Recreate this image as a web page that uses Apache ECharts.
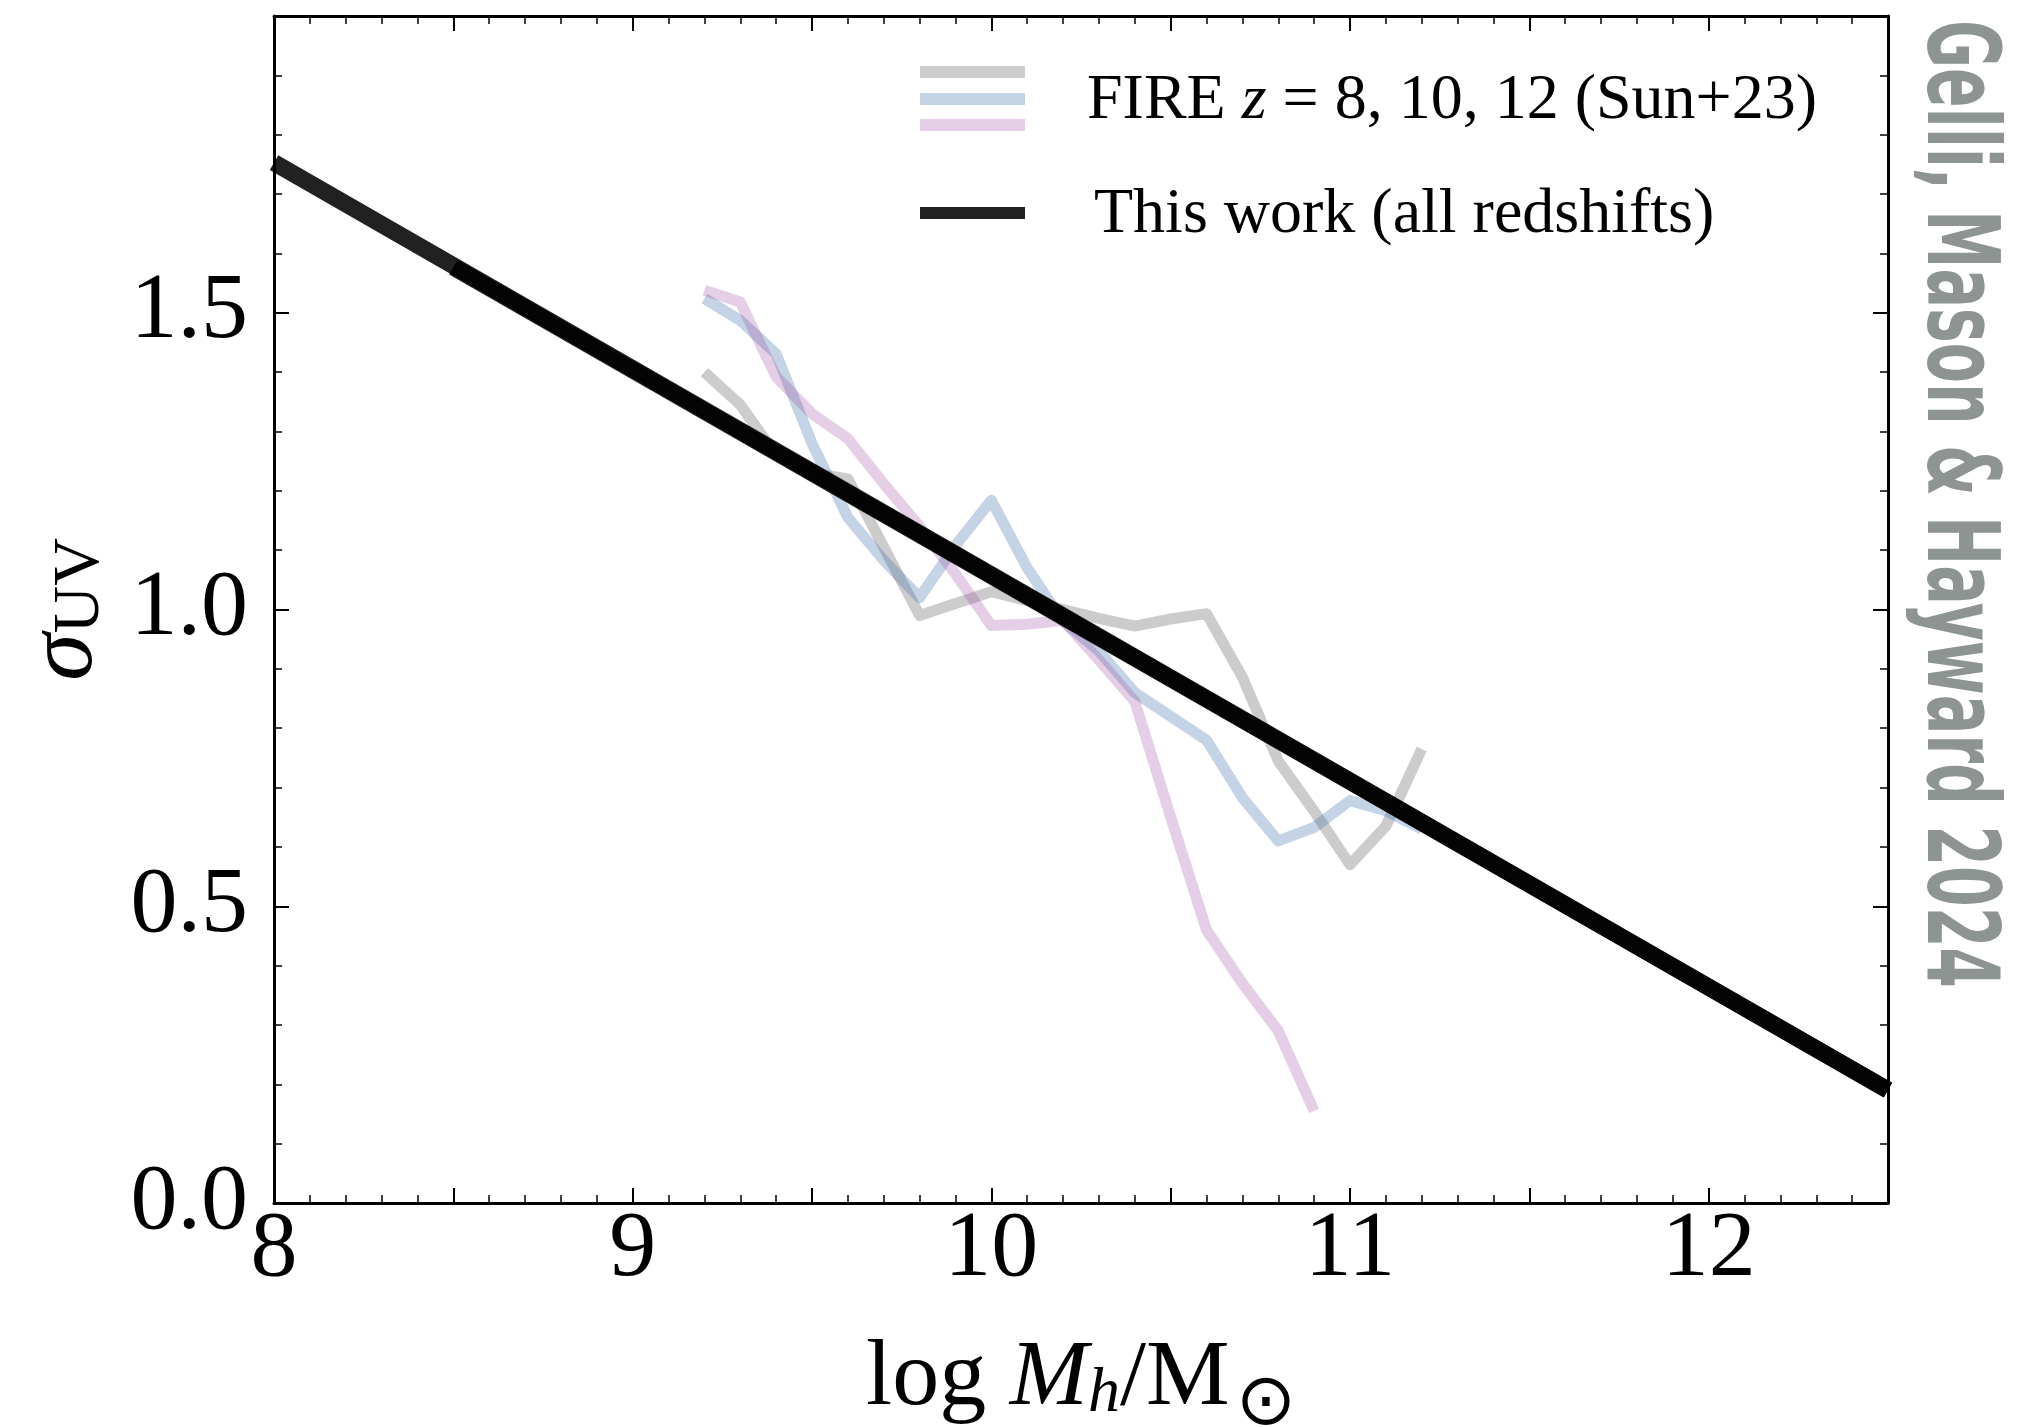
<!DOCTYPE html>
<html><head><meta charset="utf-8">
<script src="https://cdn.jsdelivr.net/npm/echarts@6/dist/echarts.min.js"></script>
<style>html,body{margin:0;padding:0;background:#fff}#c{width:2039px;height:1427px}</style>
</head><body><div id="c"></div>
<script>
// FIRE (Sun+23) halo-mass bins, log Mh
const fireMass = [9.2,9.3,9.4,9.5,9.6,9.7,9.8,9.9,10.0,10.1,10.2,10.3,10.4,10.5,10.6,10.7,10.8,10.9,11.0,11.1,11.2];
const fireZ8  = [1.40,1.345,1.26,1.23,1.22,1.105,0.99,1.01,1.03,1.015,1.0,0.985,0.972,0.984,0.993,0.886,0.745,0.66,0.57,0.635,0.765];
const fireZ10 = [1.524,1.487,1.431,1.28,1.155,1.083,1.02,1.108,1.184,1.07,0.98,0.93,0.86,0.82,0.78,0.683,0.61,0.633,0.678,0.661,0.63];
const fireZ12 = [1.538,1.518,1.392,1.33,1.288,1.212,1.14,1.06,0.973,0.975,0.982,0.915,0.845,0.65,0.46,0.37,0.29,0.155];
// This work (all redshifts)
const fitMass  = [8.0, 12.5];
const fitSigma = [1.753, 0.190];
const fitMass2  = [8.5, 12.5];
const fitSigma2 = [1.577, 0.190];
// axis ticks
const xTicks = [8, 9, 10, 11, 12];
const yTicks = [0.0, 0.5, 1.0, 1.5];

const zip = (a, b) => a.slice(0, b.length).map((v, i) => [v, b[i]]);
const serif = "'Liberation Serif','DejaVu Serif',serif";
const axisLine = {show: true, onZero: false, lineStyle: {color: '#000', width: 3}};
const axisTick = {show: true, inside: true, length: 15, lineStyle: {color: '#000', width: 2}};
const minorTick = {show: true, splitNumber: 5, length: 8, lineStyle: {color: '#000', width: 1.5}};

const chart = echarts.init(document.getElementById('c'), null, {renderer: 'canvas'});
const fireStyle = (c) => ({color: c, width: 11, join: 'round', cap: 'butt'});

chart.setOption({
  animation: false,
  backgroundColor: '#fff',
  grid: {left: 274, right: 151, top: 16, bottom: 224, containLabel: false, outerBoundsMode: 'none'},
  xAxis: [
    {type: 'value', min: 8, max: 12.5, interval: 0.5, position: 'bottom',
     axisLine, axisTick, minorTick, splitLine: {show: false}, minorSplitLine: {show: false},
     axisLabel: {show: true, margin: 0, color: '#000', fontFamily: serif, fontSize: 94,
       formatter: v => xTicks.includes(v) ? String(v) : ''},
     name: '{a|log }{b|M}{s|h}{a|/M}{o|⊙}', nameLocation: 'middle', nameGap: 114,
     nameTextStyle: {rich: {
       a: {fontFamily: serif, fontSize: 94, color: '#000'},
       b: {fontFamily: serif, fontSize: 94, fontStyle: 'italic', color: '#000'},
       s: {fontFamily: serif, fontSize: 64, fontStyle: 'italic', color: '#000', padding: [30, 0, 0, 0]},
       o: {fontFamily: "'DejaVu Sans',sans-serif", fontSize: 72, color: '#000', padding: [52, 0, 0, 6]}
     }}},
    {type: 'value', min: 8, max: 12.5, interval: 0.5, position: 'top',
     axisLine, axisTick, minorTick, splitLine: {show: false}, axisLabel: {show: false}}
  ],
  yAxis: [
    {type: 'value', min: 0, max: 2.0, interval: 0.5, position: 'left',
     axisLine, axisTick, minorTick, splitLine: {show: false},
     axisLabel: {show: true, margin: 26, color: '#000', fontFamily: serif, fontSize: 94,
       formatter: v => yTicks.some(t => Math.abs(t - v) < 1e-9) ? v.toFixed(1) : ''},
     name: '{g|σ}{u|UV}', nameLocation: 'middle', nameRotate: 90, nameGap: 160,
     nameTextStyle: {rich: {
       g: {fontFamily: serif, fontSize: 96, fontStyle: 'italic', color: '#000'},
       u: {fontFamily: serif, fontSize: 66, color: '#000', padding: [30, 0, 0, 0]}
     }}},
    {type: 'value', min: 0, max: 2.0, interval: 0.5, position: 'right',
     axisLine, axisTick, minorTick, splitLine: {show: false}, axisLabel: {show: false}}
  ],
  series: [
    {name: 'FIRE z=8', type: 'line', showSymbol: false, data: zip(fireMass, fireZ8),
     lineStyle: fireStyle('rgba(128,128,128,0.4)'), z: 2},
    {name: 'FIRE z=10', type: 'line', showSymbol: false, data: zip(fireMass, fireZ10),
     lineStyle: fireStyle('rgba(60,110,170,0.3)'), z: 2},
    {name: 'FIRE z=12', type: 'line', showSymbol: false, data: zip(fireMass, fireZ12),
     lineStyle: fireStyle('rgba(150,70,160,0.26)'), z: 2},
    {name: 'This work', type: 'line', showSymbol: false, data: zip(fitMass, fitSigma),
     lineStyle: {color: 'rgba(0,0,0,0.87)', width: 17, cap: 'butt'}, z: 3},
    {name: 'This work 2', type: 'line', showSymbol: false, data: zip(fitMass2, fitSigma2),
     lineStyle: {color: 'rgba(0,0,0,0.87)', width: 17, cap: 'butt'}, z: 3}
  ],
  graphic: [
    {type: 'line', shape: {x1: 920, y1: 72, x2: 1025, y2: 72}, style: {stroke: 'rgba(128,128,128,0.4)', lineWidth: 12}},
    {type: 'line', shape: {x1: 920, y1: 99, x2: 1025, y2: 99}, style: {stroke: 'rgba(60,110,170,0.3)', lineWidth: 12}},
    {type: 'line', shape: {x1: 920, y1: 125, x2: 1025, y2: 125}, style: {stroke: 'rgba(150,70,160,0.26)', lineWidth: 12}},
    {type: 'line', shape: {x1: 920, y1: 213, x2: 1025, y2: 213}, style: {stroke: 'rgba(0,0,0,0.87)', lineWidth: 12}},
    {type: 'text', x: 1087, y: 101, style: {
      text: '{a|FIRE }{i|z}{a| = 8, 10, 12 (Sun+23)}',
      rich: {a: {fontFamily: serif, fontSize: 64, fill: '#000'},
             i: {fontFamily: serif, fontSize: 64, fontStyle: 'italic', fill: '#000'}},
      verticalAlign: 'middle', align: 'left'}},
    {type: 'text', x: 1094, y: 215, style: {
      text: 'This work (all redshifts)', font: "64px 'Liberation Serif', serif", fill: '#000',
      verticalAlign: 'middle', align: 'left'}},
    {type: 'text', x: 1954, y: 504, rotation: -Math.PI / 2, scaleX: 0.65, style: {
      text: 'Gelli, Mason & Hayward 2024', font: "bold 100px 'Liberation Sans Narrow','DejaVu Sans Condensed',sans-serif",
      fill: '#8e9492', verticalAlign: 'middle', align: 'center'}}
  ]
});
</script></body></html>
